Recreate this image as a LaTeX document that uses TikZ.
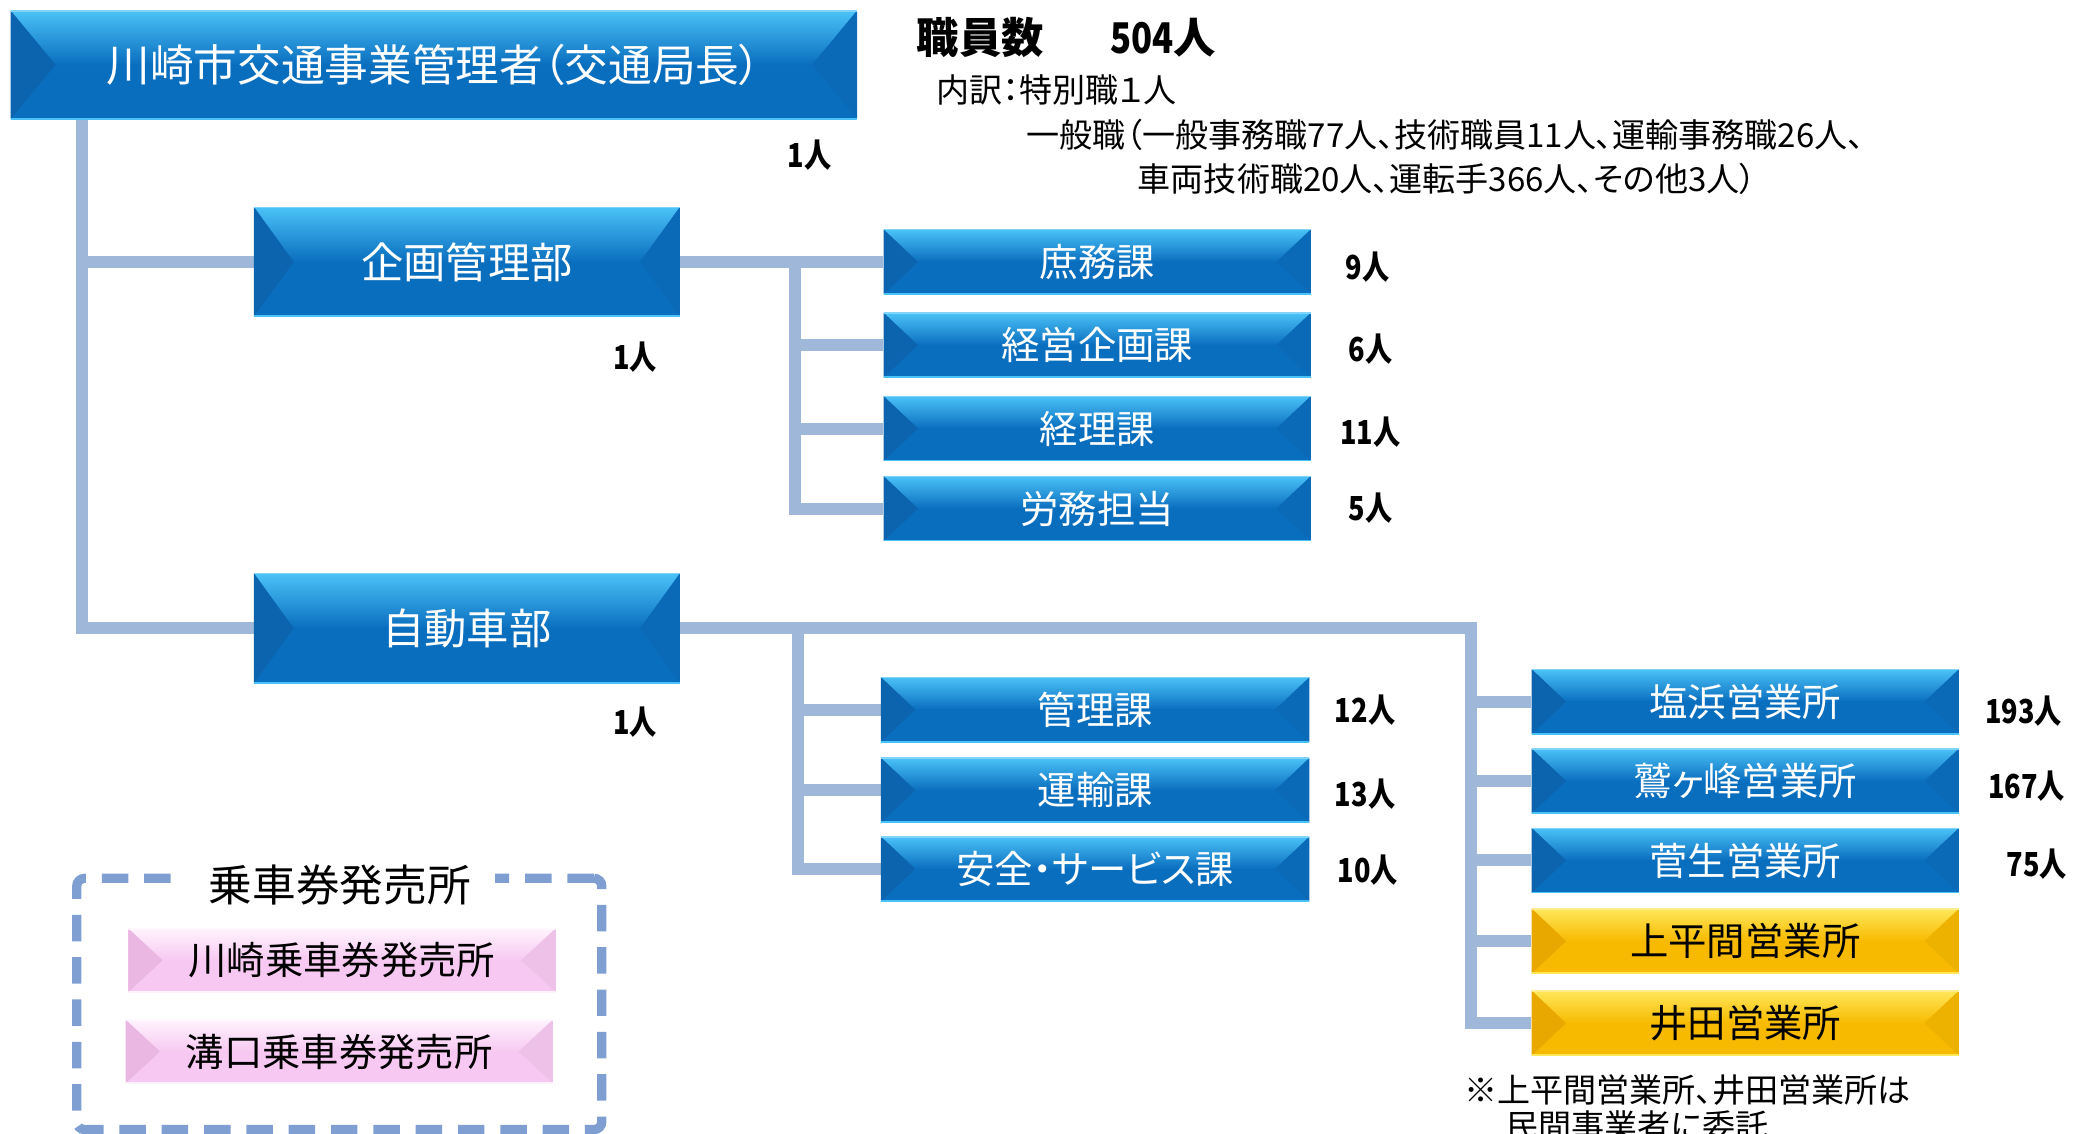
\documentclass[tikz,border=0pt]{standalone}
\usepackage{fontspec}
\setmainfont{Noto Sans CJK JP}[RawFeature=+palt]
\newfontfamily\nf{Noto Sans CJK JP}[FakeStretch=0.82]
\usetikzlibrary{calc,backgrounds}
\definecolor{bbody}{HTML}{0A6EBF}
\definecolor{btop}{HTML}{4AC2F7}
\definecolor{bleft}{HTML}{0C64AE}
\definecolor{ybody}{HTML}{F7BA00}
\definecolor{ytop}{HTML}{FFE75A}
\definecolor{yleft}{HTML}{E8A800}
\definecolor{pbody}{HTML}{F7C9F2}
\definecolor{ptop}{HTML}{FFF3FD}
\definecolor{pleft}{HTML}{EAB6E2}
\definecolor{lineblue}{HTML}{9FB7D8}
\definecolor{dashblue}{HTML}{7F9FD2}
\def\bvw{26}
\tikzset{
  bevelw/.store in=\bvw,
  bevelbox/.style n args={3}{rectangle, inner sep=0pt, fill=#1,
    path picture={
      \coordinate (bNW) at (path picture bounding box.north west);
      \coordinate (bSE) at (path picture bounding box.south east);
      \coordinate (bNE) at (bSE|-bNW);
      \coordinate (bSW) at (bNW|-bSE);
      \coordinate (bML) at ($(bNW)!0.5!(bSW)+(\bvw,0)$);
      \coordinate (bMR) at ($(bNE)!0.5!(bSE)+(-\bvw,0)$);
      \shade[top color=#2, bottom color=#1] (bNW) -- (bNE) -- (bMR) -- (bML) -- cycle;
      \fill[#3] (bNW) -- (bML) -- (bSW) -- cycle;
      \fill[#1!96!black] (bNE) -- (bMR) -- (bSE) -- cycle;
      \draw[#2, line width=2] (bSW) -- (bSE);
      \draw[#2!70!white, line width=1.5] (bNW) -- (bNE);
    }},
  bluebox/.style={bevelbox={bbody}{btop}{bleft}, text=white},
  yelbox/.style={bevelbox={ybody}{ytop}{yleft}, text=black},
  pinkbox/.style={bevelbox={pbody}{ptop}{pleft}, text=black},
  sec/.style={bluebox, minimum width=323, minimum height=49, font=\fontsize{29}{29}\selectfont},
  dept/.style={bluebox, minimum width=322, minimum height=83, bevelw=30, font=\fontsize{32}{32}\selectfont},
  cnt/.style={font=\nf\bfseries\fontsize{25}{25}\selectfont, inner sep=0pt},
  conn/.style={draw=lineblue, line width=9},
  info/.style={font=\fontsize{25}{25}\selectfont, inner sep=0pt, anchor=west},
}
\begin{document}
\begin{tikzpicture}[x=1pt,y=-1pt]
\useasboundingbox (0,0) rectangle (1568,857);
\clip (0,0) rectangle (1568,857);
% top
\node[bluebox, minimum width=640, minimum height=82, bevelw=34, font=\fontsize{33}{33}\selectfont] (top) at (328,49) {川崎市交通事業管理者（交通局長）};
\node[cnt] (ctop) at (612,117) {1人};
% header
\node[inner sep=0pt, anchor=west, font=\bfseries\fontsize{32}{32}\selectfont] (hdr) at (693,28) {職員数\hspace{50pt}{\nf 504}人};
\node[info] (inf1) at (708,68) {内訳：特別職１人};
\node[info] (inf2) at (776,102) {一般職（一般事務職77人、技術職員11人、運輸事務職26人、};
\node[info] (inf3) at (860,135) {車両技術職20人、運転手366人、その他3人）};
% departments
\node[dept] (kikaku) at (353,198) {企画管理部};
\node[cnt] (ckikaku) at (480,270) {1人};
\node[dept] (jidosha) at (353,475) {自動車部};
\node[cnt] (cjidosha) at (480,546) {1人};
% kikaku sections
\node[sec] (shomu) at (829.5,198) {庶務課};
\node[sec] (keiei) at (829.5,261) {経営企画課};
\node[sec] (keiri) at (829.5,324) {経理課};
\node[sec] (romu) at (829.5,384.5) {労務担当};
\node[cnt] (c1) at (1034,202) {9人};
\node[cnt] (c2) at (1036,264) {6人};
\node[cnt] (c3) at (1036,327) {11人};
\node[cnt] (c4) at (1036,384) {5人};
% jidosha sections
\node[sec, minimum width=324] (kanri) at (828,536.5) {管理課};
\node[sec, minimum width=324] (unyu) at (828,597.5) {運輸課};
\node[sec, minimum width=324] (anzen) at (828,657) {安全・サービス課};
\node[cnt] (c5) at (1032,537) {12人};
\node[cnt] (c6) at (1032,600) {13人};
\node[cnt] (c7) at (1034,658) {10人};
% offices
\node[sec] (shio) at (1319.5,530.5) {塩浜営業所};
\node[sec] (sagi) at (1319.5,590.5) {鷲ヶ峰営業所};
\node[sec] (sugao) at (1319.5,650.5) {菅生営業所};
\node[sec, yelbox] (kami) at (1319.5,711.5) {上平間営業所};
\node[sec, yelbox] (ida) at (1319.5,773.5) {井田営業所};
\node[cnt] (c8) at (1530,538) {193人};
\node[cnt] (c9) at (1532,594) {167人};
\node[cnt] (c10) at (1540,653) {75人};
\node[info, font=\fontsize{25}{25}\selectfont] (note1) at (1107,824) {※上平間営業所、井田営業所は};
\node[info, font=\fontsize{25}{25}\selectfont] (note2) at (1138,851) {民間事業者に委託};
% ticket offices
\node[draw=dashblue, line width=7, dash pattern=on 20pt off 12pt, rounded corners=6, minimum width=397, minimum height=190, inner sep=0pt] (tarea) at (256.5,759) {};
\node[fill=white, inner xsep=18pt, inner ysep=2pt, font=\fontsize{33}{33}\selectfont] (ttitle) at (257,669) {乗車券発売所};
\node[sec, pinkbox, minimum height=48] (p1) at (258.5,726) {川崎乗車券発売所};
\node[sec, pinkbox, minimum height=48] (p2) at (256.5,795) {溝口乗車券発売所};
% connectors
\begin{scope}[on background layer]
\coordinate (tr) at (62,0);
\coordinate (kb) at (601,0);
\coordinate (jb) at (603,0);
\coordinate (eb) at (1112,0);
\draw[conn] (top.south -| tr) |- (jidosha.west);
\draw[conn] (tr |- kikaku.west) -- (kikaku.west);
\draw[conn] (kikaku.east) -- (shomu.west);
\draw[conn] (kb |- kikaku.east) |- (romu.west);
\draw[conn] (kb |- keiei.west) -- (keiei.west);
\draw[conn] (kb |- keiri.west) -- (keiri.west);
\draw[conn] (jidosha.east) -| (eb |- ida.west) -- (ida.west);
\draw[conn] (eb |- shio.west) -- (shio.west);
\draw[conn] (eb |- sagi.west) -- (sagi.west);
\draw[conn] (eb |- sugao.west) -- (sugao.west);
\draw[conn] (eb |- kami.west) -- (kami.west);
\draw[conn] (jb |- jidosha.east) |- (anzen.west);
\draw[conn] (jb |- kanri.west) -- (kanri.west);
\draw[conn] (jb |- unyu.west) -- (unyu.west);
\end{scope}
\end{tikzpicture}
\end{document}
